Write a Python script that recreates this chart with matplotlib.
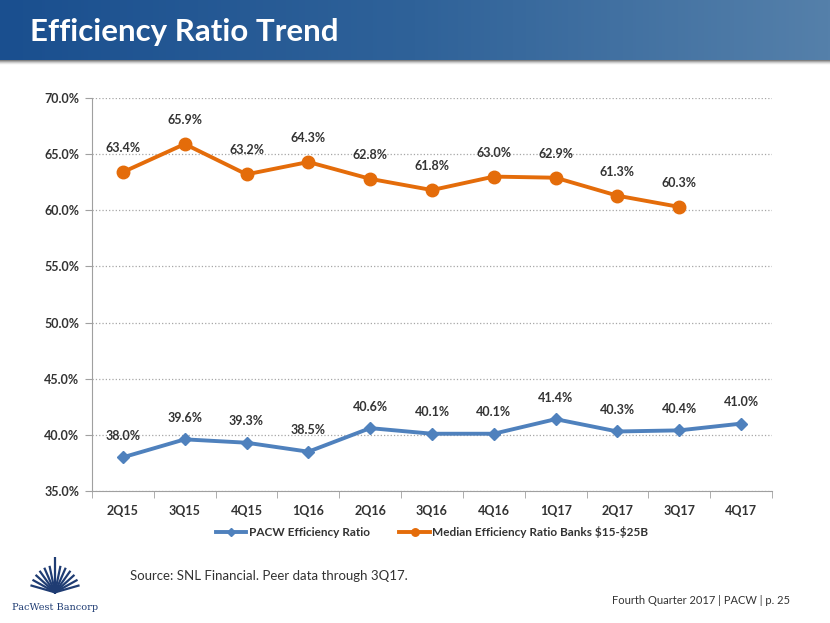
import matplotlib.pyplot as plt
import numpy as np
from matplotlib.colors import LinearSegmentedColormap

quarters = ["2Q15", "3Q15", "4Q15", "1Q16", "2Q16", "3Q16", "4Q16",
            "1Q17", "2Q17", "3Q17", "4Q17"]
pacw = [38.0, 39.6, 39.3, 38.5, 40.6, 40.1, 40.1, 41.4, 40.3, 40.4, 41.0]
median_peer = [63.4, 65.9, 63.2, 64.3, 62.8, 61.8, 63.0, 62.9, 61.3, 60.3]

BLUE = "#4F81BD"
ORANGE = "#E46C0A"
FONT = ["Lato", "DejaVu Sans"]


def main():
    plt.rcParams["font.family"] = FONT
    fig = plt.figure(figsize=(8.3, 6.23), dpi=100)

    # title banner with gradient
    ban = fig.add_axes([0, 1 - 60 / 623, 1, 60 / 623])
    grad = np.linspace(0, 1, 256)[None, :]
    cmap = LinearSegmentedColormap.from_list("ban", ["#1A4F8F", "#2F6299", "#5580AA"])
    ban.imshow(grad, aspect="auto", cmap=cmap, extent=[0, 1, 0, 1])
    ban.set_axis_off()
    shadow = fig.add_axes([0, 1 - 65 / 623, 1, 5 / 623])
    shadow.imshow(np.linspace(0, 1, 16)[:, None], aspect="auto", cmap="Greys_r",
                  extent=[0, 1, 0, 1], vmin=-0.6, vmax=1.0)
    shadow.set_axis_off()
    fig.text(30 / 830, 1 - 32 / 623, "Efficiency Ratio Trend", color="white",
             fontsize=22.5, fontweight="bold", va="center", ha="left")

    ax = fig.add_axes([92 / 830, 1 - 491 / 623, 680 / 830, 393 / 623])
    x = np.arange(len(quarters))
    ax.plot(x, pacw, color=BLUE, lw=2.8, marker="D", ms=6.5,
            label="PACW Efficiency Ratio", zorder=3)
    ax.plot(x[:len(median_peer)], median_peer, color=ORANGE, lw=2.8, marker="o",
            ms=9, label="Median Efficiency Ratio Banks \\$15-\\$25B", zorder=3)

    for xi, v in zip(x, pacw):
        ax.annotate(f"{v:.1f}%", (xi, v), xytext=(0, 11), textcoords="offset points",
                    ha="center", va="bottom", fontsize=9, fontweight="bold",
                    color="#333333")
    for xi, v in zip(x, median_peer):
        ax.annotate(f"{v:.1f}%", (xi, v), xytext=(0, 13), textcoords="offset points",
                    ha="center", va="bottom", fontsize=9, fontweight="bold",
                    color="#333333")

    ax.set_xlim(-0.5, len(quarters) - 0.5)
    ax.set_ylim(35, 70)
    ax.set_yticks(np.arange(35, 70.1, 5))
    ax.set_yticklabels([f"{t:.1f}%" for t in np.arange(35, 70.1, 5)])
    ax.set_xticks(x)
    ax.set_xticklabels(quarters)
    ax.set_xticks(np.arange(-0.5, len(quarters), 1), minor=True)
    ax.tick_params(axis="x", which="major", length=0, pad=10)
    ax.tick_params(axis="x", which="minor", length=5, color="#A0A0A0")
    ax.tick_params(axis="y", length=5, color="#A0A0A0", pad=4)
    for lab in ax.get_xticklabels() + ax.get_yticklabels():
        lab.set_fontweight("bold")
        lab.set_fontsize(9)
        lab.set_color("#333333")
    ax.grid(axis="y", color="#A6A6A6", linestyle=":", lw=0.9)
    ax.set_axisbelow(True)
    for s in ["top", "right"]:
        ax.spines[s].set_visible(False)
    for s in ["left", "bottom"]:
        ax.spines[s].set_color("#A0A0A0")

    leg = ax.legend(loc="center", bbox_to_anchor=(0.5, -0.105), ncol=2,
                    frameon=False, handlelength=2.6, columnspacing=2.5,
                    handletextpad=0.2, markerscale=0.6,
                    prop={"weight": "bold", "size": 8.5})
    for t in leg.get_texts():
        t.set_color("#333333")

    fig.text(130 / 830, 1 - 576 / 623, "Source: SNL Financial. Peer data through 3Q17.",
             fontsize=9.5, color="#333333", va="center")
    fig.text(790 / 830, 1 - 600 / 623, "Fourth Quarter 2017 | PACW | p. 25",
             fontsize=8, color="#333333", va="center", ha="right")

    # simple logo
    logo = fig.add_axes([28 / 830, 1 - 602 / 623, 54 / 830, 45 / 623])
    logo.set_xlim(-1, 1)
    logo.set_ylim(0, 1.4)
    logo.set_axis_off()
    for ang in np.linspace(15, 165, 13):
        r = 1.3 if abs(ang - 90) < 10 else 0.9
        a = np.deg2rad(ang)
        logo.plot([0, r * np.cos(a)], [0.3, 0.3 + r * np.sin(a) * 0.9],
                  color="#1F3C73", lw=1.6)
    fig.text(55 / 830, 1 - 608 / 623, "PacWest Bancorp", fontsize=7,
             family="DejaVu Serif", color="#1F3C73", ha="center", va="center")

    fig.savefig("out.png", dpi=100)


if __name__ == "__main__":
    main()
